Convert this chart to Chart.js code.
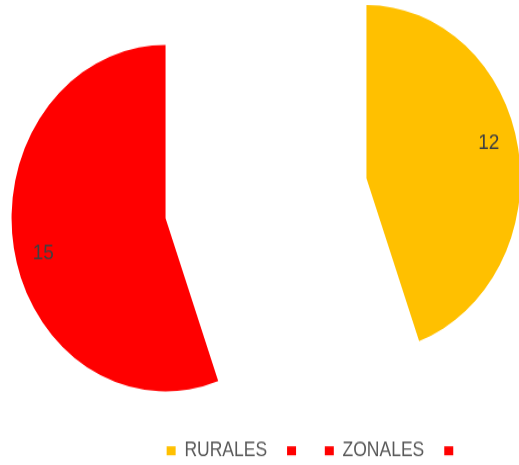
<!DOCTYPE html>
<html>
<head>
<meta charset="utf-8">
<script src="https://cdn.jsdelivr.net/npm/chart.js@4.4.0/dist/chart.umd.min.js"></script>
<style>
    html, body { margin: 0; padding: 0; background: #fff; overflow: hidden; }
    /* the original picture is squeezed a bit, so the pie is an ellipse */
    #wrap { position: absolute; left: 0; top: 0; width: 519px; height: 448px;
            transform-origin: 0 0; transform: translateY(-22px) scaleY(1.125); }
</style>
</head>
<body>
<div id="wrap"><canvas id="myChart" width="519" height="448"></canvas></div>
<script>
'use strict';

let labels = ['RURALES', '', 'ZONALES', ''];
let values = [12, 0, 15, 0];
let colors = ['#FFC000', '#FF0000', '#FF0000', '#FF0000'];

let explodeDist = 102;
let labelRadius = 0.82;
let labelTurn = -4.5 * Math.PI / 180;

// pull every slice out along its middle angle
let explodePlugin = {
    id: 'explode',
    afterDatasetsUpdate(chart) {
        let meta = chart.getDatasetMeta(0);
        meta.data.forEach(function (arc) {
            let mid = (arc.startAngle + arc.endAngle) / 2;
            arc.x += Math.cos(mid) * explodeDist;
            arc.y += Math.sin(mid) * explodeDist;
        });
    }
};

let valueLabels = {
    id: 'valueLabels',
    afterDatasetsDraw(chart) {
        let ctx = chart.ctx;
        let meta = chart.getDatasetMeta(0);
        ctx.save();
        ctx.font = '19px "Liberation Sans", Arial, sans-serif';
        ctx.fillStyle = '#404040';
        ctx.textAlign = 'center';
        ctx.textBaseline = 'middle';
        meta.data.forEach(function (arc, i) {
            if (!values[i]) {
                return;
            }
            let mid = (arc.startAngle + arc.endAngle) / 2 + labelTurn;
            let r = arc.outerRadius * labelRadius;
            ctx.fillText(String(values[i]), arc.x + Math.cos(mid) * r, arc.y + Math.sin(mid) * r);
        });
        ctx.restore();
    }
};

let ctx = document.getElementById('myChart').getContext('2d');
let myChart = new Chart(ctx, {
    type: 'pie',
    data: {
        labels: labels,
        datasets: [{
            data: values,
            backgroundColor: colors,
            borderWidth: 0,
            radius: 154
        }]
    },
    options: {
        responsive: false,
        animation: false,
        layout: {
            padding: { left: 50, right: 37, top: 0, bottom: 9 }
        },
        plugins: {
            tooltip: { enabled: false },
            legend: {
                position: 'bottom',
                align: 'end',
                labels: {
                    boxWidth: 9,
                    boxHeight: 8,
                    padding: 20,
                    color: '#595959',
                    font: { family: '"Liberation Sans", Arial, sans-serif', size: 17.5 }
                }
            }
        }
    },
    plugins: [explodePlugin, valueLabels]
});
</script>
</body>
</html>
